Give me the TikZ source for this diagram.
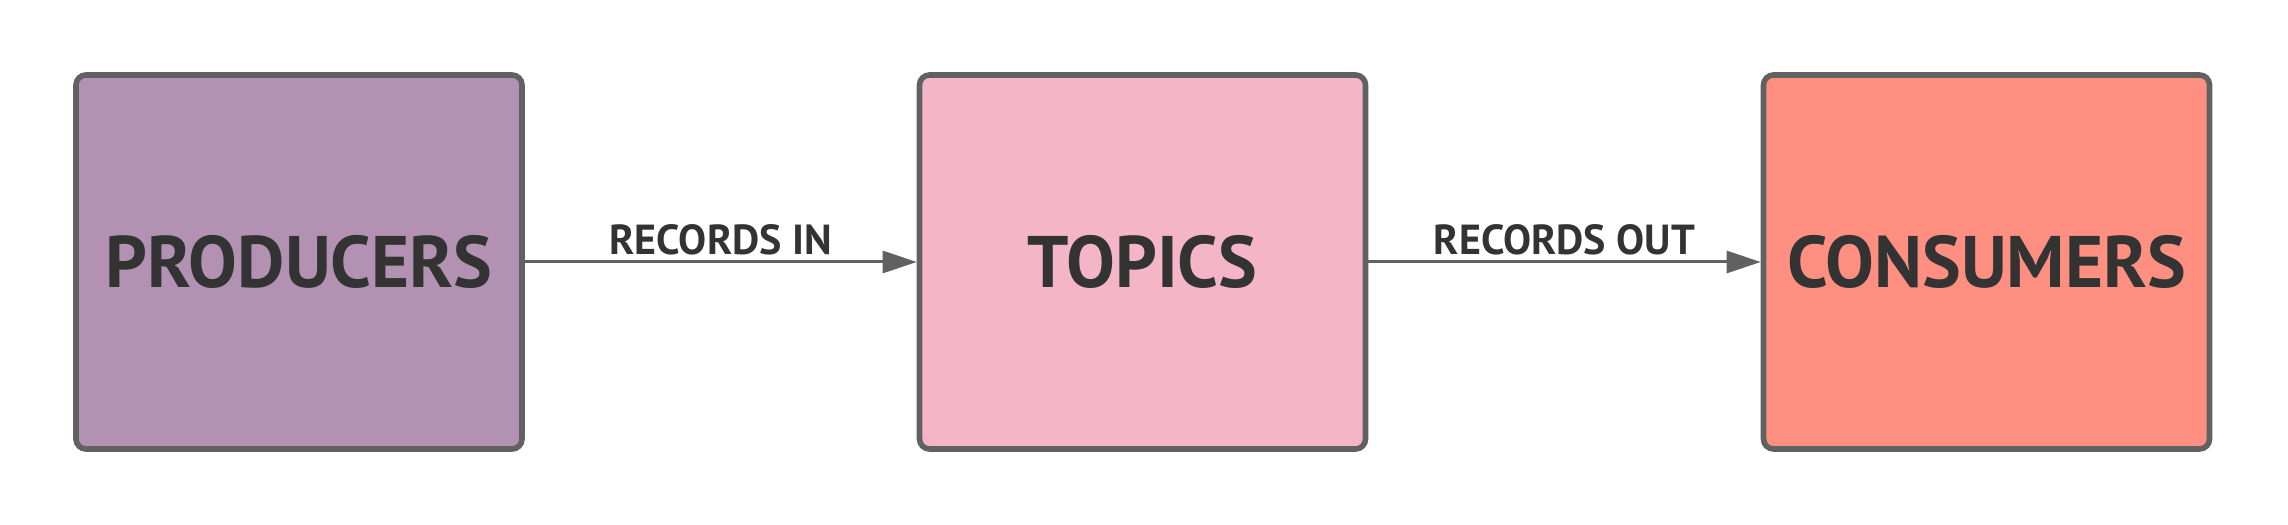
\documentclass[tikz,border=0pt]{standalone}
\usepackage{fontspec}
\setmainfont{PT Sans}
\usetikzlibrary{arrows.meta}
\definecolor{edgegray}{HTML}{616161}
\definecolor{textgray}{HTML}{333333}
\definecolor{prodfill}{HTML}{B391B3}
\definecolor{topicfill}{HTML}{F4B5C7}
\definecolor{consfill}{HTML}{FF8F80}
\begin{document}
\begin{tikzpicture}[x=1pt, y=1pt,
		stagebox/.style={draw=edgegray, line width=2.8pt, rounded corners=5pt, minimum width=223pt, minimum height=187pt, text=textgray, font=\fontsize{36.5}{40}\selectfont\bfseries},
		flow/.style={draw=edgegray, line width=1.5pt, -{Triangle[length=17pt, width=11pt]}},
		flowlabel/.style={text=textgray, font=\fontsize{21}{24}\selectfont\bfseries, above, inner sep=2.5pt}]
		\useasboundingbox (0, 0) rectangle (1144, 262.5);
		\node[stagebox, fill=prodfill] (producers) at (149.5, 131.5) {PRODUCERS};
		\node[stagebox, fill=topicfill] (topics) at (571.25, 131.5) {TOPICS};
		\node[stagebox, fill=consfill] (consumers) at (993.25, 131.5) {CONSUMERS};
		\draw[flow] (producers) -- node[flowlabel] {RECORDS IN} (topics);
		\draw[flow] (topics) -- node[flowlabel] {RECORDS OUT} (consumers);
	\end{tikzpicture}
\end{document}
